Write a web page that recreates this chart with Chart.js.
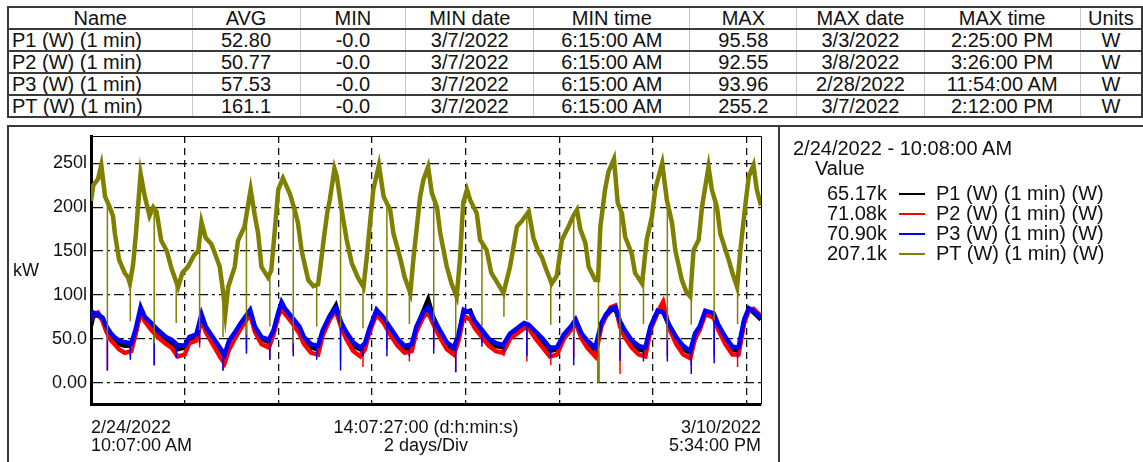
<!DOCTYPE html>
<html>
<head>
<meta charset="utf-8">
<script src="https://cdn.jsdelivr.net/npm/chart.js@4.4.0/dist/chart.umd.min.js"></script>
<style>
body{margin:0;width:1143px;height:462px;overflow:hidden;background:#fff;position:relative;
  font-family:"Liberation Sans",Arial,sans-serif;color:#111}
#stats{position:absolute;left:7px;top:6px;border-collapse:collapse;table-layout:fixed;font-size:20px;border:2px solid #3a3a3a}
#stats th,#stats td{height:20px;line-height:20px;padding:0;font-weight:normal;text-align:center;
  white-space:nowrap;overflow:hidden;border-left:1px solid #c8c8c8;border-bottom:2px solid #3a3a3a}
#stats td.nm{text-align:left;padding-left:3px}
#panel{position:absolute;left:7px;top:125px;width:1150px;height:400px;border:2px solid #3a3a3a}
#sep{position:absolute;left:778px;top:125px;width:2px;height:340px;background:#3a3a3a}
#chart{position:absolute;left:0;top:0}
.t{position:absolute;white-space:nowrap;font-size:18px;line-height:18px}
.lg{position:absolute;white-space:nowrap;font-size:20px;line-height:20px}
.sw{position:absolute;height:0;border-top:2px solid #000}
</style>
</head>
<body>
<table id="stats"></table>
<div id="panel"></div>
<div id="sep"></div>
<canvas id="chart" width="1143" height="462"></canvas>
<div id="labels"></div>
<script>
// stats table
var statHead = ["Name","AVG","MIN","MIN date","MIN time","MAX","MAX date","MAX time","Units"];
var statCols = [185,109,107,129,157,108,128,157,62];
var statNames = ["P1 (W) (1 min)","P2 (W) (1 min)","P3 (W) (1 min)","PT (W) (1 min)"];
var statAvg = ["52.80","50.77","57.53","161.1"];
var statMin = ["-0.0","-0.0","-0.0","-0.0"];
var statMinDate = ["3/7/2022","3/7/2022","3/7/2022","3/7/2022"];
var statMinTime = ["6:15:00 AM","6:15:00 AM","6:15:00 AM","6:15:00 AM"];
var statMax = ["95.58","92.55","93.96","255.2"];
var statMaxDate = ["3/3/2022","3/8/2022","2/28/2022","3/7/2022"];
var statMaxTime = ["2:25:00 PM","3:26:00 PM","11:54:00 AM","2:12:00 PM"];
var statUnits = ["W","W","W","W"];

// legend
var seriesNames = ["P1 (W) (1 min) (W)","P2 (W) (1 min) (W)","P3 (W) (1 min) (W)","PT (W) (1 min) (W)"];
var seriesColors = ["#000000","#ff0000","#0000ff","#808000"];
var legendValues = ["65.17k","71.08k","70.90k","207.1k"];
var legendTitle = "2/24/2022 - 10:08:00 AM";

// axes
var yTickValues = [0,50,100,150,200,250];
var yTickLabels = ["0.00","50.0","100l","150l","200l","250l"];
var xGridDays = [0,2,4,6,8,10,12,14];
var xLabelLeft = ["2/24/2022","10:07:00 AM"];
var xLabelMid = ["14:07:27:00 (d:h:min:s)","2 days/Div"];
var xLabelRight = ["3/10/2022","5:34:00 PM"];

// PT, days since start
var ptDays = [0,0.05,0.15,0.22,0.3,0.4,0.47,0.51,0.6,0.72,
  0.79,0.83,0.9,0.96,1.06,1.15,1.25,1.33,1.4,1.5,
  1.62,1.72,1.86,1.95,2.07,2.2,2.29,2.36,2.45,2.57,
  2.65,2.75,2.83,2.87,2.93,3.07,3.14,3.28,3.41,3.5,
  3.57,3.64,3.78,3.85,3.92,4.0,4.1,4.25,4.35,4.42,
  4.5,4.64,4.75,4.85,4.9,4.97,5.05,5.1,5.2,5.25,
  5.35,5.46,5.57,5.7,5.82,5.89,5.96,6.03,6.15,6.25,
  6.39,6.46,6.6,6.7,6.82,6.89,7.03,7.1,7.2,7.28,
  7.39,7.46,7.6,7.7,7.81,7.88,7.95,8.03,8.1,8.24,
  8.31,8.45,8.55,8.7,8.81,8.95,9.1,9.2,9.35,9.45,
  9.55,9.63,9.7,9.84,9.95,10.06,10.2,10.3,10.38,10.45,
  10.56,10.63,10.77,10.83,10.88,10.98,11.05,11.17,11.25,11.34,
  11.41,11.55,11.62,11.77,11.87,11.98,12.05,12.2,12.3,12.41,
  12.48,12.62,12.72,12.8,12.87,12.98,13.05,13.19,13.26,13.37,
  13.44,13.62,13.7,13.8,13.87,13.97,14.05,14.15,14.22,14.31];
var ptVals = [207,225,232,248,212,200,190,170,140,125,
  120,113,135,170,238,212,190,200,195,162,
  150,130,109,125,132,145,150,183,165,158,
  147,132,100,79,109,132,162,178,220,190,
  170,132,120,128,170,220,233,215,197,182,
  150,117,110,112,132,163,195,208,244,235,
  198,163,136,120,109,143,182,220,248,212,
  197,170,143,120,102,143,212,231,246,216,
  200,170,132,113,98,140,205,220,208,193,
  163,151,125,112,102,132,178,184,195,165,
  150,143,132,113,122,163,178,190,197,175,
  159,132,117,117,178,220,240,255,205,193,
  166,147,125,113,163,189,220,250,208,182,
  151,117,103,98,151,163,200,246,220,200,
  170,140,125,109,151,200,235,248,220,202];

// phases, days since start
var phaseDays = [0,0.05,0.15,0.25,0.33,0.43,0.5,0.6,0.72,0.86,
  0.95,1.06,1.15,1.29,1.43,1.6,1.72,1.85,2.0,2.1,
  2.25,2.36,2.45,2.6,2.75,2.85,2.95,3.07,3.2,3.4,
  3.5,3.64,3.8,3.9,4.0,4.07,4.15,4.3,4.45,4.55,
  4.7,4.85,4.95,5.1,5.23,5.35,5.45,5.6,5.75,5.85,
  5.95,6.1,6.25,6.4,6.55,6.7,6.85,6.95,7.1,7.2,
  7.3,7.45,7.6,7.75,7.85,7.96,8.1,8.2,8.35,8.5,
  8.65,8.8,8.95,9.1,9.25,9.35,9.5,9.65,9.8,9.95,
  10.1,10.25,10.35,10.48,10.6,10.77,10.9,11.0,11.1,11.2,
  11.3,11.4,11.55,11.7,11.84,11.95,12.1,12.22,12.35,12.5,
  12.65,12.8,12.9,13.0,13.12,13.3,13.4,13.55,13.7,13.83,
  13.95,14.05,14.15,14.31];
var p3Vals = [71,80,78,74,64,56,52,48,46,45,
  60,86,75,68,60,52,49,43,42,52,
  55,78,64,52,40,32,48,57,68,83,
  64,52,49,60,80,92,84,74,64,52,
  44,42,60,76,85,68,58,46,40,45,
  62,83,74,62,50,42,44,64,80,86,
  74,60,46,40,55,83,80,70,60,50,
  45,43,56,62,68,66,58,50,40,40,
  55,64,72,56,48,40,68,78,84,86,
  70,60,48,42,40,64,82,80,66,52,
  42,36,56,64,82,79,66,52,41,40,
  72,85,82,74];
var p2Vals = [71,78,80,70,58,48,44,38,34,36,
  55,80,70,60,52,44,40,30,32,45,
  48,72,58,44,30,22,38,50,62,78,
  58,44,40,55,76,84,78,68,56,44,
  34,32,54,72,82,62,50,36,30,38,
  58,78,68,54,42,34,36,58,75,80,
  68,52,38,32,48,76,72,62,52,42,
  36,34,50,56,62,62,50,40,30,32,
  50,60,68,50,40,30,64,76,86,88,
  64,52,40,32,30,60,80,92,62,44,
  32,28,50,60,78,74,60,44,32,32,
  68,82,84,76];
var p1Vals = [65,76,77,72,60,52,48,44,42,42,
  56,82,74,62,54,48,44,38,40,48,
  52,74,60,48,36,28,44,54,65,80,
  62,50,46,58,78,86,80,70,60,48,
  40,38,58,76,88,66,54,42,38,42,
  60,82,72,60,46,38,40,62,82,95,
  76,58,42,38,52,80,82,68,56,46,
  42,40,54,60,66,64,54,46,36,38,
  52,62,70,54,44,36,66,76,82,84,
  68,58,44,38,36,62,80,82,64,48,
  38,34,54,62,80,76,64,48,38,36,
  70,84,80,72];

// one-minute drop-outs: day, level before the drop, lowest value
var spikeDays = [0.35,0.84,1.35,1.82,2.32,2.82,3.32,3.82,4.32,4.82,5.33,5.81,6.32,6.80,
  7.32,7.79,8.35,8.82,9.31,9.82,10.31,10.839,11.30,11.80,12.31,12.82,13.31,13.81];
var ptSpikeTop = [208,113,200,112,160,100,190,125,200,112,200,109,205,104,
  212,99,160,104,190,114,192,117,198,125,205,100,210,110];
var ptSpikeLow = [48,70,45,68,60,52,55,64,45,64,63,62,69,67,
  69,52,64,75,71,66,52,0,48,67,48,66,71,67];
var p3SpikeTop = [62,45,66,44,70,34,76,50,73,42,70,42,68,43,
  72,42,60,45,67,40,68,45,70,40,70,40,78,40];
var p3SpikeLow = [14,26,20,28,45,14,33,26,30,26,14,30,30,30,
  33,12,41,35,30,28,20,0,25,24,24,10,22,28];
var p2SpikeTop = [56,36,60,32,62,24,70,42,66,32,64,32,62,35,
  66,34,52,35,62,32,62,32,64,32,64,30,72,32];
var p2SpikeLow = [14,30,20,30,40,14,38,26,35,30,25,18,38,24,
  40,12,45,30,24,20,28,0,10,30,30,20,30,18];
var p1SpikeTop = [null,null,null,null,null,null,null,null,null,null,null,null,null,null,
  null,null,null,null,null,null,null,36,null,null,null,null,null,null];
var p1SpikeLow = [null,null,null,null,null,null,null,null,null,null,null,null,null,null,
  null,null,null,null,null,null,null,0,null,null,null,null,null,null];

function toPoints(days, vals){
  return days.map(function(d,i){ return {x:d, y:vals[i]}; });
}
function spikePoints(tops, lows){
  var out = [];
  spikeDays.forEach(function(d,i){
    if (lows[i] == null) return;
    out.push({x:d,y:tops[i]},{x:d,y:lows[i]},{x:d,y:null});
  });
  return out;
}

// table
var tbl = document.getElementById("stats");
var html = "<colgroup>";
statCols.forEach(function(w){ html += "<col style='width:"+w+"px'>"; });
html += "</colgroup><tr>";
statHead.forEach(function(h){ html += "<th>"+h+"</th>"; });
html += "</tr>";
for (var i = 0; i < statNames.length; i++) {
  html += "<tr><td class='nm'>"+statNames[i]+"</td><td>"+statAvg[i]+"</td><td>"+statMin[i]+"</td><td>"+
    statMinDate[i]+"</td><td>"+statMinTime[i]+"</td><td>"+statMax[i]+"</td><td>"+statMaxDate[i]+"</td><td>"+
    statMaxTime[i]+"</td><td>"+statUnits[i]+"</td></tr>";
}
tbl.innerHTML = html;

// labels and legend
var lab = "";
lab += "<div class='t' style='left:13px;top:261px'>kW</div>";
lab += "<div class='t' style='left:91px;top:418px'>"+xLabelLeft[0]+"</div>";
lab += "<div class='t' style='left:91px;top:436px'>"+xLabelLeft[1]+"</div>";
lab += "<div class='t' style='left:226px;width:400px;text-align:center;top:418px'>"+xLabelMid[0]+"</div>";
lab += "<div class='t' style='left:226px;width:400px;text-align:center;top:436px'>"+xLabelMid[1]+"</div>";
lab += "<div class='t' style='left:461px;width:300px;text-align:right;top:418px'>"+xLabelRight[0]+"</div>";
lab += "<div class='t' style='left:461px;width:300px;text-align:right;top:436px'>"+xLabelRight[1]+"</div>";
lab += "<div class='lg' style='left:793px;top:138px'>"+legendTitle+"</div>";
lab += "<div class='lg' style='left:815px;top:158px'>Value</div>";
for (var k = 0; k < seriesNames.length; k++) {
  var rowTop = 183 + k*20;
  lab += "<div class='lg' style='left:787px;width:100px;text-align:right;top:"+rowTop+"px'>"+legendValues[k]+"</div>";
  lab += "<div class='sw' style='left:899px;width:26px;top:"+(rowTop+10)+"px;border-top-color:"+seriesColors[k]+"'></div>";
  lab += "<div class='lg' style='left:936px;top:"+rowTop+"px'>"+seriesNames[k]+"</div>";
}
document.getElementById("labels").innerHTML = lab;

// thin top and right edges of the plot
var frame = {
  id: "frame",
  beforeDatasetsDraw: function(chart){
    var a = chart.chartArea, c = chart.ctx;
    c.save();
    c.strokeStyle = "#000";
    c.lineWidth = 1;
    c.beginPath();
    c.moveTo(a.left, a.top + 0.5);
    c.lineTo(a.right + 0.5, a.top + 0.5);
    c.lineTo(a.right + 0.5, a.bottom);
    c.stroke();
    c.restore();
  }
};

function lineSet(data, color, width, order){
  return {data:data, borderColor:color, borderWidth:width, pointRadius:0, tension:0,
          fill:false, spanGaps:false, order:order};
}

new Chart(document.getElementById("chart"), {
  type: "line",
  data: {
    datasets: [
      lineSet(toPoints(ptDays, ptVals), "#808000", 4.5, 0),
      lineSet(spikePoints(ptSpikeTop, ptSpikeLow), "#808000", 1.5, 1),
      lineSet(toPoints(phaseDays, p3Vals), "#0000ff", 4.5, 2),
      lineSet(spikePoints(p3SpikeTop, p3SpikeLow), "#0000ff", 1.5, 3),
      lineSet(toPoints(phaseDays, p2Vals), "#ff0000", 4.5, 4),
      lineSet(spikePoints(p2SpikeTop, p2SpikeLow), "#ff0000", 1.5, 5),
      lineSet(toPoints(phaseDays, p1Vals), "#000000", 4.5, 6),
      lineSet(spikePoints(p1SpikeTop, p1SpikeLow), "#000000", 1.5, 7)
    ]
  },
  options: {
    responsive: false,
    animation: false,
    devicePixelRatio: 1,
    layout: {padding: {left:0, top:136, right:382, bottom:58}},
    plugins: {legend:{display:false}, tooltip:{enabled:false}},
    scales: {
      x: {
        type: "linear", min: 0, max: 14.3104,
        afterBuildTicks: function(s){ s.ticks = xGridDays.map(function(v){ return {value:v}; }); },
        afterFit: function(s){ s.height = 0; },
        ticks: {display:false},
        grid: {color:"#111", lineWidth:1.3, drawTicks:false},
        border: {display:true, color:"#000", width:3, dash:[7,5]}
      },
      y: {
        type: "linear", min: -24.3, max: 281.1,
        afterBuildTicks: function(s){ s.ticks = yTickValues.map(function(v){ return {value:v}; }); },
        afterFit: function(s){ s.width = 91; },
        ticks: {padding:4, color:"#111", font:{family:"Liberation Sans", size:18},
                callback: function(v, i){ return yTickLabels[i]; }},
        grid: {color:"#111", lineWidth:1.3, drawTicks:false},
        border: {display:true, color:"#000", width:3, dash:[10,4,3,4]}
      }
    }
  },
  plugins: [frame]
});
</script>
</body>
</html>
